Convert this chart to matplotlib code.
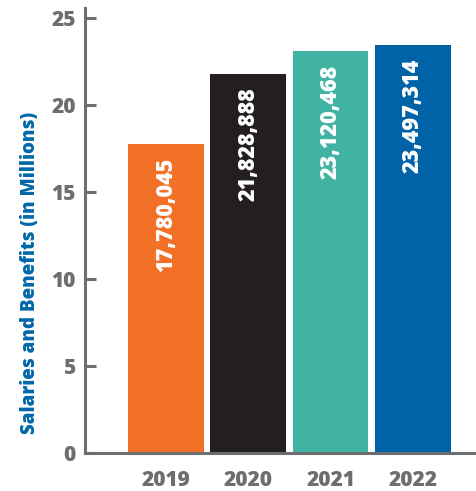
import matplotlib
matplotlib.use("Agg")
import matplotlib.pyplot as plt

# salaries and benefits per year (dollars)
years = ["2019", "2020", "2021", "2022"]
amounts = [17780045, 21828888, 23120468, 23497314]
bar_colors = ["#f37027", "#231f20", "#41b3a3", "#0063a7"]
yticks = [0, 5, 10, 15, 20, 25]

gray = "#6d6e71"
blue = "#0067a9"
plt.rcParams['font.family'] = ['Open Sans', 'DejaVu Sans']
wt = 'heavy'

fig = plt.figure(figsize=(4.77, 4.91), dpi=100)
ax = fig.add_axes([85/477, 38/491, 392/477, 445/491])

xs = list(range(len(years)))
heights = [a / 1e6 for a in amounts]
bars = ax.bar(xs, heights, width=0.92, color=bar_colors)

for x, h, a in zip(xs, heights, amounts):
    ax.annotate(f"{a:,}", xy=(x, h), xytext=(0, -10), textcoords='offset points',
                rotation=90, ha='center', va='top', color='white',
                fontsize=15.5, fontweight=wt)

ax.set_xlim(-0.985, 3.78)
ax.set_ylim(0, 25.6)
ax.set_xticks(xs, years)
ax.set_yticks(yticks)

for side in ['top', 'right']:
    ax.spines[side].set_visible(False)
for side in ['left', 'bottom']:
    ax.spines[side].set_color(gray)
    ax.spines[side].set_linewidth(2.2)

ax.tick_params(axis='y', direction='in', length=8, width=2.2, color=gray,
               pad=6.5, labelcolor=gray, labelsize=15)
ax.tick_params(axis='x', length=0, pad=12, labelcolor=gray, labelsize=15)
for lab in ax.get_xticklabels() + ax.get_yticklabels():
    lab.set_fontweight(wt)

fig.text(30/477, 1 - 273/491, "Salaries and Benefits (in Millions)", rotation=90,
         ha='center', va='center', color=blue, fontsize=13.5, fontweight=wt)

fig.savefig("out.png", dpi=100)
